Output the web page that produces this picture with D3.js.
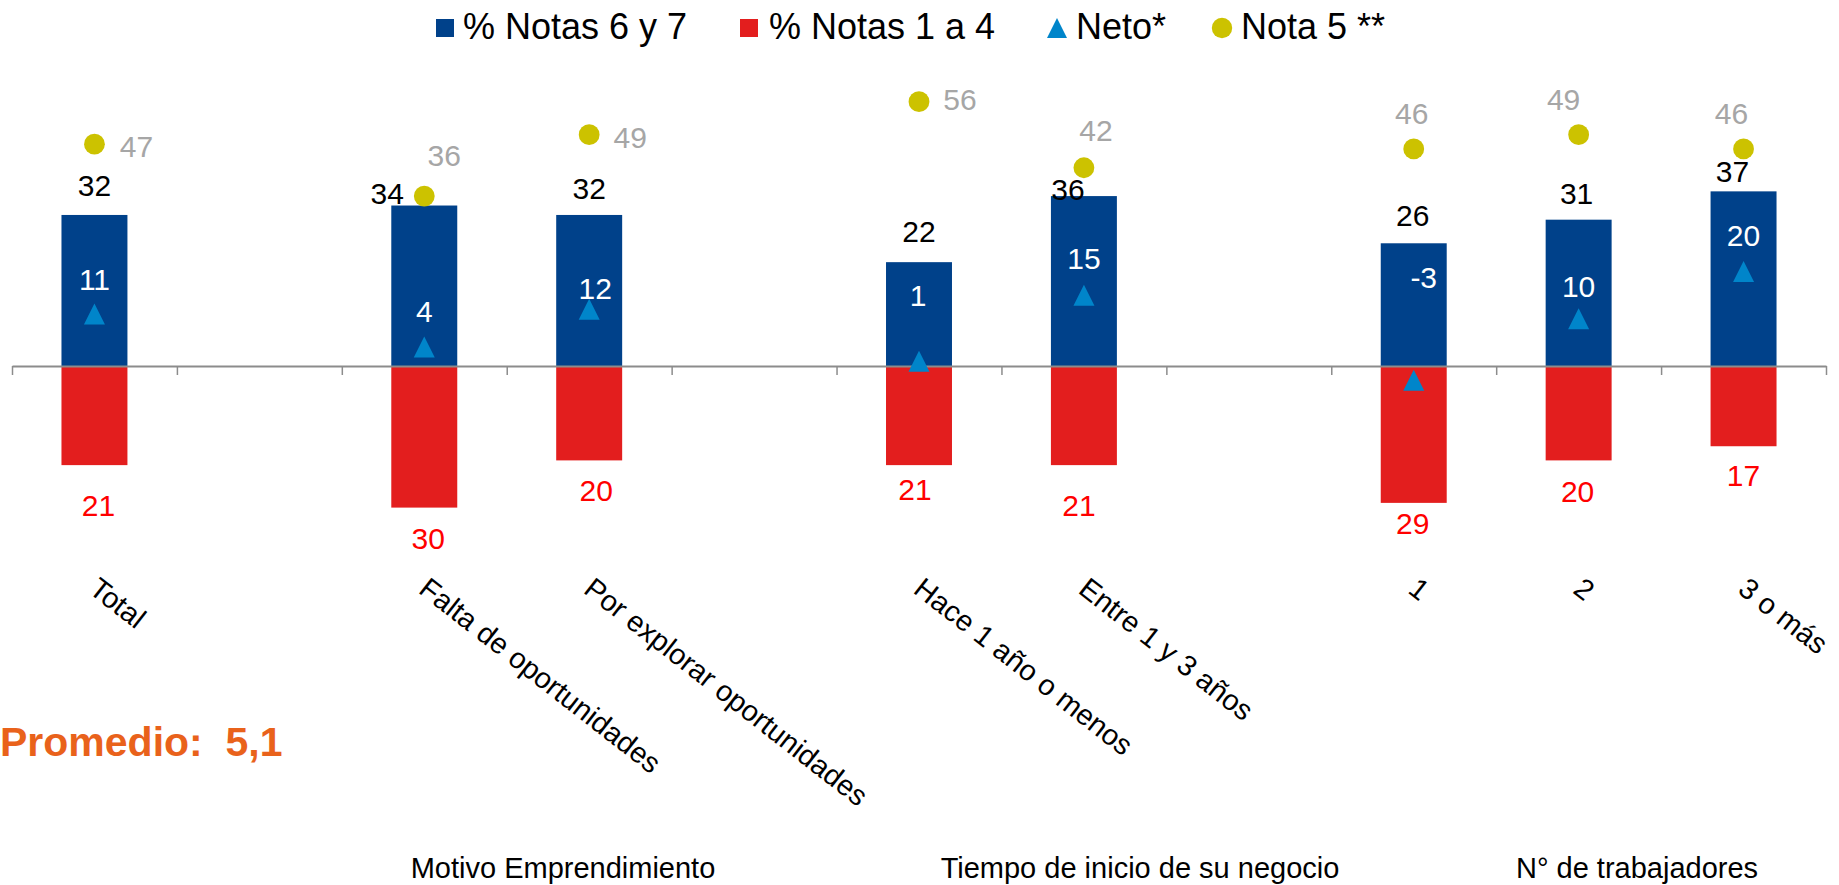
<!DOCTYPE html>
<html>
<head>
<meta charset="utf-8">
<script src="https://cdn.jsdelivr.net/npm/d3@7"></script>
<style>
  html, body { margin: 0; padding: 0; background: #ffffff; overflow: hidden; }
  svg { display: block; font-family: "Liberation Sans", Arial, sans-serif; }
</style>
</head>
<body>
<script>
// ---------------- DATA ----------------
const categories = ["Total", "", "Falta de oportunidades", "Por explorar oportunidades", "",
                    "Hace 1 año o menos", "Entre 1 y 3 años", "", "1", "2", "3 o más"];
const notas67 = [32, null, 34, 32, null, 22, 36, null, 26, 31, 37];   // % Notas 6 y 7
const notas14 = [21, null, 30, 20, null, 21, 21, null, 29, 20, 17];   // % Notas 1 a 4
const neto    = [11, null, 4, 12, null, 1, 15, null, -3, 10, 20];     // Neto*
const nota5   = [47, null, 36, 49, null, 56, 42, null, 46, 49, 46];   // Nota 5 **
const legendLabels = ["% Notas 6 y 7", "% Notas 1 a 4", "Neto*", "Nota 5 **"];
const groupTitles = ["Motivo Emprendimiento", "Tiempo de inicio de su negocio", "N° de trabajadores"];
const promedioText = "Promedio:  5,1";

// ---------------- LAYOUT (label nudges, not data) ----------------
const offBlue = [[0,0],null,[-37,17],[0,3],null,[0,-1],[-16,23],null,[-1,2],[-2,3],[-11,10]];
const offRed  = [[4,11],null,[4,1],[7,1],null,[-4,-5],[-5,11],null,[-1,-9],[-1,2],[0,0]];
const offNeto = [[0,3],null,[0,2],[6,17],null,[-1,-28],[0,1],null,[10,-65],[0,6],[0,2]];
const offN5   = [[0,2],null,[-22,-41],[-1,2],null,[-1,-3],[-30,-38],null,[-44,-36],[-57,-36],[-54,-36]];
const groupX  = [563, 1140, 1637];
const legendX = [[436, 463], [740, 769], [1057, 1076], [1222, 1241]];

const C = {
  blue: "#00418A", red: "#E31E1E", tri: "#0085CA", dot: "#CCC200",
  gray: "#A6A6A6", redText: "#FF0000", axis: "#8C8C8C", orange: "#E9621B"
};

const W = 1839, H = 885;
const svg = d3.select("body").append("svg").attr("width", W).attr("height", H);

const x = d3.scaleBand().domain(d3.range(categories.length)).range([12, 1826]).padding(0);
const bw = x.bandwidth();
const barW = bw * 0.4;
const cx = i => x(i) + bw / 2;
const pxPerUnit = 4.72;
const y = d3.scaleLinear().domain([-40, 60]).range([366 + 40 * pxPerUnit, 366 - 60 * pxPerUnit]);

const idx = d3.range(categories.length);
const has = arr => idx.filter(i => arr[i] != null);

// Bars
svg.append("g").selectAll("rect").data(has(notas67)).join("rect")
  .attr("x", i => cx(i) - barW / 2).attr("width", barW)
  .attr("y", i => y(notas67[i])).attr("height", i => y(0) - y(notas67[i]))
  .attr("fill", C.blue);
svg.append("g").selectAll("rect").data(has(notas14)).join("rect")
  .attr("x", i => cx(i) - barW / 2).attr("width", barW)
  .attr("y", y(0)).attr("height", i => y(-notas14[i]) - y(0))
  .attr("fill", C.red);

// Axis line with ticks between categories
const xl = d3.scaleLinear().domain([0, categories.length]).range([12, 1826]);
const ax = svg.append("g").attr("transform", `translate(0,${y(0)})`)
  .call(d3.axisBottom(xl).tickValues(d3.range(0, categories.length + 1)).tickFormat("").tickSizeInner(9).tickSizeOuter(0));
ax.select(".domain").attr("stroke", C.axis).attr("stroke-width", 2);
ax.selectAll(".tick line").attr("stroke", C.axis).attr("stroke-width", 1.5);

// Category labels
const gx = svg.append("g").attr("transform", "translate(0,592)")
  .call(d3.axisBottom(x).tickSize(0).tickFormat(i => categories[i]));
gx.select(".domain").remove();
gx.attr("font-family", null).attr("font-size", null);
gx.selectAll("text").attr("x", 0).attr("y", 0).attr("dy", 0)
  .attr("text-anchor", "start")
  .attr("transform", "translate(-7,0) rotate(38)")
  .style("font-size", "29px").attr("fill", "#000");

// Markers
const triPath = "M0,-10.5L10.5,10.5L-10.5,10.5Z";
svg.append("g").selectAll("path").data(has(neto)).join("path")
  .attr("d", triPath).attr("fill", C.tri)
  .attr("transform", i => `translate(${cx(i)},${y(neto[i])})`);
svg.append("g").selectAll("circle").data(has(nota5)).join("circle")
  .attr("cx", i => cx(i)).attr("cy", i => y(nota5[i])).attr("r", 10.4)
  .attr("fill", C.dot);

// Data labels
function labels(arr, fx, fy, off, fill) {
  svg.append("g").selectAll("text").data(has(arr)).join("text")
    .attr("x", i => fx(i) + off[i][0]).attr("y", i => fy(i) + off[i][1])
    .attr("text-anchor", "middle").style("font-size", "30px").attr("fill", fill)
    .text(i => arr[i]);
}
labels(notas67, cx, i => y(notas67[i]) - 19, offBlue, "#000");
labels(notas14, cx, i => y(-notas14[i]) + 40, offRed, C.redText);
labels(neto, cx, i => y(neto[i]) - 27.5, offNeto, "#fff");
labels(nota5, i => cx(i) + 42, i => y(nota5[i]) + 11, offN5, C.gray);

// Legend
const lg = svg.append("g");
lg.append("rect").attr("x", legendX[0][0]).attr("y", 19).attr("width", 18).attr("height", 18).attr("fill", C.blue);
lg.append("rect").attr("x", legendX[1][0]).attr("y", 19).attr("width", 18).attr("height", 18).attr("fill", C.red);
lg.append("path").attr("d", "M0,-10L10,10L-10,10Z").attr("fill", C.tri).attr("transform", `translate(${legendX[2][0]},28)`);
lg.append("circle").attr("cx", legendX[3][0]).attr("cy", 28).attr("r", 10.2).attr("fill", C.dot);
lg.selectAll("text").data(legendLabels).join("text")
  .attr("x", (d, k) => legendX[k][1]).attr("y", 38.5)
  .style("font-size", "36px").attr("fill", "#000").text(d => d);

// Group titles
svg.append("g").selectAll("text").data(groupTitles).join("text")
  .attr("x", (d, k) => groupX[k]).attr("y", 878).attr("text-anchor", "middle")
  .style("font-size", "29px").attr("fill", "#000").text(d => d);

// Promedio
svg.append("text").attr("x", 0).attr("y", 756)
  .style("font-size", "41px").style("font-weight", "bold").style("white-space", "pre")
  .attr("fill", C.orange)
  .text(promedioText);
</script>
</body>
</html>
